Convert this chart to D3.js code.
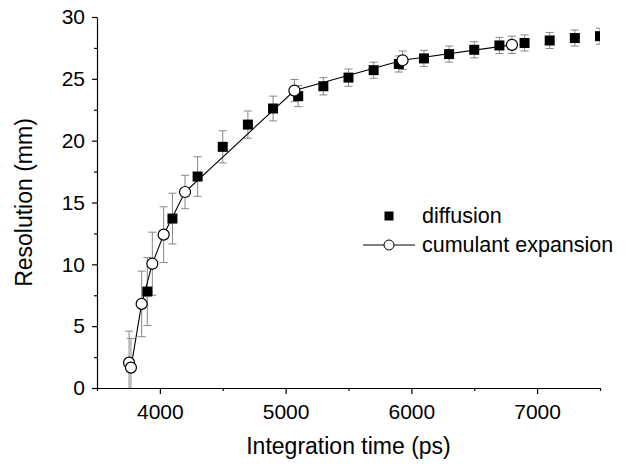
<!doctype html>
<html lang="en">
<head>
  <meta charset="utf-8">
  <title>Resolution vs integration time</title>
  <style>
    body { margin: 0; background: #fff; }
    text { font-family: "Liberation Sans", Arial, sans-serif; fill: #000; }
    .axis path, .axis line { stroke: #000; stroke-width: 1.2; }
  </style>
</head>
<body>
  <script src="https://cdn.jsdelivr.net/npm/d3@7"></script>
  <script>
    // diffusion model (filled squares)
    var diffTime = [3900, 4100, 4300, 4500, 4700, 4900, 5100, 5300, 5500, 5700, 5900, 6100, 6300, 6500, 6700, 6900, 7100, 7300, 7500]
    var diffRes = [7.8, 13.7, 17.1, 19.5, 21.3, 22.6, 23.6, 24.4, 25.1, 25.7, 26.2, 26.65, 27.0, 27.35, 27.7, 27.9, 28.1, 28.3, 28.45]
    var diffErr = [2.75, 2.05, 1.6, 1.3, 1.1, 1.0, 0.85, 0.7, 0.7, 0.65, 0.65, 0.65, 0.65, 0.65, 0.65, 0.65, 0.65, 0.65, 0.65]

    // cumulant expansion (open circles + line)
    var cumTime = [3755, 3770, 3855, 3940, 4030, 4200, 5070, 5930, 6800]
    var cumRes = [2.05, 1.65, 6.8, 10.05, 12.4, 15.85, 24.05, 26.5, 27.75]
    var cumErr = [2.55, 2.35, 2.65, 2.55, 2.25, 1.35, 0.9, 0.75, 0.7]

    var xMajor = [4000, 5000, 6000, 7000]
    var xMinor = [3500, 4500, 5500, 6500, 7500]
    var yMajor = [0, 5, 10, 15, 20, 25, 30]
    var yMinor = [2.5, 7.5, 12.5, 17.5, 22.5, 27.5]

    var seriesNames = ['diffusion', 'cumulant expansion']

    var W = 644, H = 464
    var margin = { left: 97, right: 44, top: 17, bottom: 76 }
    var width = W - margin.left - margin.right
    var height = H - margin.top - margin.bottom

    var svg = d3.select('body').append('svg')
      .attr('width', W)
      .attr('height', H)

    svg.append('defs').append('clipPath')
      .attr('id', 'plot-clip')
      .append('rect')
      .attr('width', width)
      .attr('height', height)

    var g = svg.append('g')
      .attr('transform', 'translate(' + margin.left + ',' + margin.top + ')')

    var x = d3.scaleLinear().domain([3500, 7500]).range([0, width])
    var y = d3.scaleLinear().domain([0, 30]).range([height, 0])

    // axes
    g.append('g')
      .attr('class', 'axis')
      .attr('transform', 'translate(0,' + height + ')')
      .call(d3.axisBottom(x).tickValues(xMajor).tickFormat(d3.format('d'))
        .tickSize(6).tickPadding(10).tickSizeOuter(0))
      .call(function(s) { s.selectAll('text').style('font-size', '21px') })

    g.append('g')
      .attr('class', 'axis')
      .attr('transform', 'translate(0,' + height + ')')
      .call(d3.axisBottom(x).tickValues(xMinor).tickSize(3).tickFormat('').tickSizeOuter(0))
      .select('.domain').remove()

    g.append('g')
      .attr('class', 'axis')
      .call(d3.axisLeft(y).tickValues(yMajor).tickSize(5).tickPadding(7).tickSizeOuter(0))
      .call(function(s) { s.selectAll('text').style('font-size', '21px') })

    g.append('g')
      .attr('class', 'axis')
      .call(d3.axisLeft(y).tickValues(yMinor).tickSize(3).tickFormat('').tickSizeOuter(0))
      .select('.domain').remove()

    // axis titles
    svg.append('text')
      .attr('x', margin.left + width / 2)
      .attr('y', 454)
      .attr('text-anchor', 'middle')
      .style('font-size', '23px')
      .text('Integration time (ps)')

    svg.append('text')
      .attr('transform', 'translate(32,' + (margin.top + height / 2) + ') rotate(-90)')
      .attr('text-anchor', 'middle')
      .style('font-size', '23px')
      .text('Resolution (mm)')

    var plot = g.append('g').attr('clip-path', 'url(#plot-clip)')

    var diff = diffTime.map(function(t, i) { return { t: t, v: diffRes[i], e: diffErr[i] } })
    var cum = cumTime.map(function(t, i) { return { t: t, v: cumRes[i], e: cumErr[i] } })

    function errorBars(sel, data) {
      var eb = sel.selectAll(null).data(data).enter().append('g')
        .style('stroke', '#888')
        .style('stroke-width', 1)
      eb.append('line')
        .attr('x1', function(d) { return x(d.t) })
        .attr('x2', function(d) { return x(d.t) })
        .attr('y1', function(d) { return y(d.v - d.e) })
        .attr('y2', function(d) { return y(d.v + d.e) })
      eb.append('line')
        .attr('x1', function(d) { return x(d.t) - 4 })
        .attr('x2', function(d) { return x(d.t) + 4 })
        .attr('y1', function(d) { return y(d.v + d.e) })
        .attr('y2', function(d) { return y(d.v + d.e) })
      eb.append('line')
        .attr('x1', function(d) { return x(d.t) - 4 })
        .attr('x2', function(d) { return x(d.t) + 4 })
        .attr('y1', function(d) { return y(d.v - d.e) })
        .attr('y2', function(d) { return y(d.v - d.e) })
    }

    errorBars(plot, diff)
    errorBars(plot, cum)

    var line = d3.line()
      .x(function(d) { return x(d.t) })
      .y(function(d) { return y(d.v) })

    plot.append('path')
      .datum(cum)
      .attr('d', line)
      .style('fill', 'none')
      .style('stroke', '#000')
      .style('stroke-width', 1.1)

    var sq = 10
    plot.selectAll('.sq').data(diff).enter().append('rect')
      .attr('class', 'sq')
      .attr('x', function(d) { return x(d.t) - sq / 2 })
      .attr('y', function(d) { return y(d.v) - sq / 2 })
      .attr('width', sq)
      .attr('height', sq)
      .style('fill', '#000')

    plot.selectAll('.circ').data(cum).enter().append('circle')
      .attr('class', 'circ')
      .attr('cx', function(d) { return x(d.t) })
      .attr('cy', function(d) { return y(d.v) })
      .attr('r', 5.5)
      .style('fill', '#fff')
      .style('stroke', '#000')
      .style('stroke-width', 1.2)

    // legend
    var lg = svg.append('g').attr('transform', 'translate(389,216)')
    lg.append('rect')
      .attr('x', -4.5).attr('y', -4.5).attr('width', 9).attr('height', 9)
      .style('fill', '#000')
    lg.append('text')
      .attr('x', 33).attr('y', 7)
      .style('font-size', '21.5px')
      .text(seriesNames[0])

    var lg2 = svg.append('g').attr('transform', 'translate(389,245)')
    lg2.append('line')
      .attr('x1', -26).attr('x2', 26)
      .style('stroke', '#000').style('stroke-width', 1)
    lg2.append('circle')
      .attr('r', 5)
      .style('fill', '#fff').style('stroke', '#000').style('stroke-width', 1)
    lg2.append('text')
      .attr('x', 33).attr('y', 7)
      .style('font-size', '21.5px')
      .text(seriesNames[1])
  </script>
</body>
</html>
